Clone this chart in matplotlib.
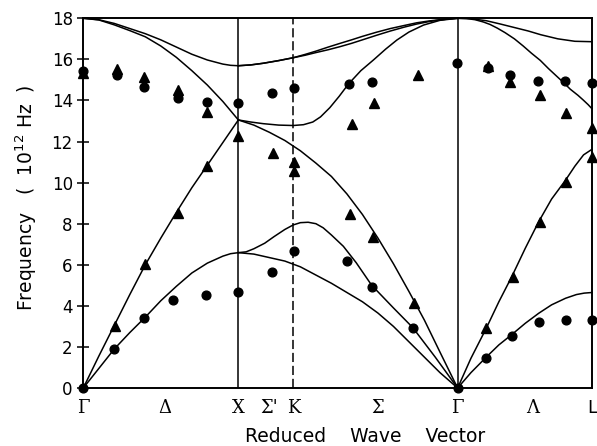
import matplotlib.pyplot as plt

# positions of symmetry points along the path (reduced wave vector)
sym_x = [0.0, 1.0, 1.354, 2.414, 3.280]
sym_labels = ['Γ', 'X', 'K', 'Γ', 'L']
dir_x = [0.527, 1.20, 1.90, 2.90]
dir_labels = ['Δ', "Σ'", 'Σ', 'Λ']

# calculated dispersion curves, Gamma - X (Delta)
d_x = [0, 0.1, 0.2, 0.3, 0.4, 0.5, 0.6, 0.7, 0.8, 0.9, 0.95, 1.0]
d_to = [18, 17.93, 17.75, 17.5, 17.25, 16.95, 16.6, 16.25, 15.97, 15.77, 15.71, 15.69]
d_lo = [18, 17.92, 17.68, 17.4, 17.1, 16.65, 16.1, 15.45, 14.75, 13.95, 13.5, 13.05]
d_la = [0, 1.55, 3.05, 4.55, 6.0, 7.3, 8.55, 9.75, 10.85, 11.95, 12.5, 13.05]
d_ta = [0, 0.95, 1.9, 2.7, 3.45, 4.25, 4.95, 5.6, 6.08, 6.42, 6.54, 6.59]

# X - K - Gamma (Sigma', Sigma)
s_to_x = [1.0, 1.08, 1.16, 1.26, 1.354, 1.43, 1.5, 1.58, 1.656, 1.73, 1.8, 1.89,
          1.98, 2.07, 2.15, 2.23, 2.3, 2.36, 2.414]
s_to_a = [15.69, 15.73, 15.81, 15.94, 16.08, 16.24, 16.4, 16.6, 16.78, 16.95, 17.12,
          17.32, 17.5, 17.65, 17.78, 17.87, 17.93, 17.97, 18.0]
s_to_b = [15.69, 15.73, 15.81, 15.94, 16.08, 16.2, 16.33, 16.47, 16.62, 16.78, 16.95,
          17.17, 17.38, 17.57, 17.72, 17.84, 17.92, 17.97, 18.0]
s_lo_x = [1.0, 1.08, 1.16, 1.26, 1.354, 1.42, 1.48, 1.53, 1.59, 1.65, 1.71, 1.79,
          1.871, 1.95, 2.022, 2.1, 2.194, 2.3, 2.414]
s_lo = [13.05, 12.95, 12.87, 12.8, 12.78, 12.82, 12.95, 13.2, 13.65, 14.2, 14.8,
        15.45, 15.97, 16.5, 16.94, 17.33, 17.67, 17.9, 18.0]
s_la_x = [1.0, 1.1, 1.2, 1.3, 1.4, 1.5, 1.6, 1.7, 1.8, 1.9, 2.0, 2.1, 2.2, 2.3, 2.414]
s_la = [13.05, 12.8, 12.45, 12.05, 11.55, 10.95, 10.3, 9.45, 8.45, 7.3, 6.05, 4.7,
        3.3, 1.75, 0]
s_ta1_x = [1.0, 1.05, 1.1, 1.17, 1.23, 1.3, 1.354, 1.4, 1.45, 1.5, 1.547, 1.6, 1.677,
           1.76, 1.86, 2.0, 2.125, 2.27, 2.414]
s_ta1 = [6.59, 6.63, 6.78, 7.05, 7.37, 7.72, 7.94, 8.05, 8.07, 8.0, 7.8, 7.45, 6.9,
         6.1, 5.0, 3.9, 2.94, 1.5, 0]
s_ta2_x = [1.0, 1.1, 1.2, 1.3, 1.4, 1.5, 1.6, 1.7, 1.8, 1.9, 2.0, 2.1, 2.2, 2.3, 2.414]
s_ta2 = [6.59, 6.52, 6.35, 6.18, 5.9, 5.5, 5.1, 4.65, 4.2, 3.65, 3.0, 2.25, 1.5, 0.75, 0]

# Gamma - L (Lambda)
l_to_x = [2.414, 2.5, 2.6, 2.69, 2.78, 2.87, 2.95, 3.06, 3.17, 3.28]
l_to = [18, 17.98, 17.88, 17.72, 17.55, 17.38, 17.2, 17.0, 16.88, 16.86]
l_lo_x = [2.414, 2.47, 2.527, 2.58, 2.623, 2.67, 2.72, 2.78, 2.837, 2.89, 2.947,
          3.0, 3.057, 3.1, 3.14, 3.19, 3.224, 3.255, 3.28]
l_lo = [18, 17.99, 17.93, 17.82, 17.7, 17.52, 17.3, 17.0, 16.65, 16.3, 15.95,
        15.55, 15.15, 14.85, 14.55, 14.25, 14.02, 13.8, 13.6]
l_la_x = [2.414, 2.5, 2.598, 2.68, 2.763, 2.85, 2.937, 3.02, 3.108, 3.17, 3.226, 3.28]
l_la = [0, 1.45, 2.9, 4.2, 5.42, 6.8, 8.1, 9.2, 10.1, 10.8, 11.35, 11.62]
l_ta_x = [2.414, 2.5, 2.598, 2.68, 2.763, 2.85, 2.937, 3.02, 3.11, 3.18, 3.23, 3.28]
l_ta = [0, 0.75, 1.5, 2.1, 2.6, 3.15, 3.64, 4.05, 4.37, 4.55, 4.62, 4.65]

# measured points: circles
circ_x = [0, 0.215, 0.394, 0.609, 0.80, 1.0,
          0.2, 0.39, 0.58, 0.79, 1.0,
          1.214, 1.357, 1.214, 1.357,
          1.714, 1.865, 2.41, 1.703, 1.861, 2.125,
          2.609, 2.753, 2.935, 3.108, 3.28,
          2.598, 2.764, 2.94, 3.114, 3.28, 0, 2.414]
circ_y = [15.45, 15.25, 14.65, 14.12, 13.92, 13.86,
          1.88, 3.41, 4.3, 4.54, 4.67,
          14.38, 14.59, 5.66, 6.66,
          14.8, 14.91, 15.81, 6.18, 4.93, 2.94,
          15.56, 15.24, 14.96, 14.95, 14.86,
          1.48, 2.53, 3.2, 3.31, 3.31, 0, 0]

# measured points: triangles
tri_x = [0, 0.215, 0.394, 0.609, 0.80, 1.0,
         0.205, 0.4, 0.609, 0.80,
         1.222, 1.361, 1.361,
         1.732, 1.875, 2.157, 1.72, 1.871, 2.134,
         2.609, 2.753, 2.942, 3.112, 3.28, 3.28,
         2.598, 2.768, 2.942, 3.112]
tri_y = [15.32, 15.52, 15.16, 14.51, 13.45, 12.28,
         3.03, 6.02, 8.54, 10.82,
         11.46, 11.02, 10.56,
         12.85, 13.86, 15.24, 8.46, 7.37, 4.15,
         15.68, 14.88, 14.26, 13.37, 12.64, 11.26,
         2.91, 5.42, 8.1, 10.04]

fig = plt.figure(figsize=(5.97, 4.46), dpi=100)
ax = fig.add_axes([0.1395, 0.130, 0.852, 0.829])

curves = [(d_x, d_to), (d_x, d_lo), (d_x, d_la), (d_x, d_ta),
          (s_to_x, s_to_a), (s_to_x, s_to_b), (s_lo_x, s_lo), (s_la_x, s_la),
          (s_ta1_x, s_ta1), (s_ta2_x, s_ta2),
          (l_to_x, l_to), (l_lo_x, l_lo), (l_la_x, l_la), (l_ta_x, l_ta)]
for cx, cy in curves:
    ax.plot(cx, cy, color='black', lw=1.1, clip_on=False,
            solid_joinstyle='round')

# vertical lines at symmetry points
ax.axvline(sym_x[1], color='black', lw=1.1)
ax.axvline(sym_x[3], color='black', lw=1.1)
ax.axvline(sym_x[2], color='black', lw=1.1, ls=(0, (6, 2.5)))

ax.plot(circ_x, circ_y, 'o', color='black', ms=6.3, clip_on=False)
ax.plot(tri_x, tri_y, '^', color='black', ms=7, clip_on=False)

ax.set_xlim(sym_x[0], sym_x[-1])
ax.set_ylim(0, 18)
ax.set_yticks(range(0, 19, 2))
ax.tick_params(axis='y', direction='inout', length=9, width=1.1,
               labelsize=12, pad=3)
ax.set_xticks([])
for sp in ax.spines.values():
    sp.set_linewidth(1.4)

# path labels below the axis
for xv, lab in zip(sym_x, sym_labels):
    fam = 'DejaVu Sans' if lab == 'L' else 'DejaVu Serif'
    ax.text(xv, -0.55, lab, ha='center', va='top', fontsize=13, family=fam)
for xv, lab in zip(dir_x, dir_labels):
    ax.text(xv, -0.55, lab, ha='center', va='top', fontsize=13,
            family='DejaVu Serif')

ax.set_ylabel('Frequency   (  10$^{12}$ Hz  )', fontsize=13.5)
ax.yaxis.set_label_coords(-0.088, 0.516)
ax.text(0.554, -0.132, 'Reduced    Wave    Vector', transform=ax.transAxes,
        ha='center', va='center', fontsize=13.5)

fig.savefig('out.png', dpi=100)
